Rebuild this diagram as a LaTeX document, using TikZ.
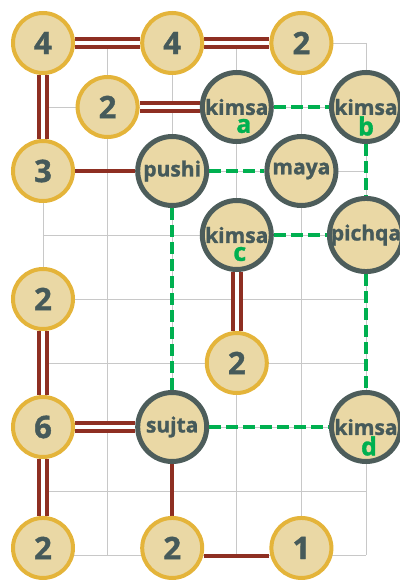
\documentclass[tikz,border=0pt]{standalone}
\usepackage{fontspec}
\setmainfont{Open Sans}[BoldFeatures={FakeBold=1.2}]
\usepackage{tikz}
\usetikzlibrary{backgrounds}
\definecolor{tiletan}{HTML}{EAD8A5}
\definecolor{tilegold}{HTML}{E4B43A}
\definecolor{tileslate}{HTML}{4D5D5B}
\definecolor{inkslate}{HTML}{465A5A}
\definecolor{bondred}{HTML}{8E2F22}
\definecolor{trailgreen}{HTML}{00B050}
\definecolor{gridgray}{HTML}{C8C8C8}
\tikzset{
  numnode/.style={
    circle,
    draw=tilegold,
    fill=tiletan,
    line width=4pt,
    minimum size=60pt,
    inner sep=0pt,
    text=inkslate,
    font=\fontsize{31}{31}\selectfont\bfseries
  },
  wordnode/.style={
    circle,
    draw=tileslate,
    fill=tiletan,
    line width=5pt,
    minimum size=69pt,
    inner sep=0pt,
    text=inkslate,
    font=\fontsize{21}{21}\selectfont\bfseries
  },
  tagtext/.style={
    text=trailgreen,
    inner sep=0pt,
    font=\fontsize{25}{25}\selectfont\bfseries
  },
  gridline/.style={
    draw=gridgray,
    line width=0.8pt
  },
  bond/.style={
    draw=bondred,
    line width=4.5pt
  },
  dbond/.style={
    draw=bondred,
    line width=3.5pt,
    double=white,
    double distance=4.5pt
  },
  trail/.style={
    draw=trailgreen,
    line width=4.5pt,
    dash pattern=on 12pt off 5pt
  }
}

\begin{document}
\begin{tikzpicture}[x=64.6pt, y=-64pt]
\useasboundingbox (-0.6656,-0.6719) rectangle (5.5263,8.4063);
% tiles
\node[numnode] (n4a) at (0,0) {4};
\node[numnode] (n4b) at (2,0) {4};
\node[numnode] (n2a) at (4,0) {2};
\node[numnode] (n2b) at (1,1) {2};
\node[wordnode] (ka) at (3,1) {kimsa};
\node[wordnode] (kb) at (5,1) {kimsa};
\node[numnode] (n3) at (0,2) {3};
\node[wordnode] (pushi) at (2,2) {pushi};
\node[wordnode] (maya) at (4,2) {maya};
\node[wordnode] (kc) at (3,3) {kimsa};
\node[wordnode] (pichqa) at (5,3) {pichqa};
\node[numnode] (n2c) at (0,4) {2};
\node[numnode] (n2d) at (3,5) {2};
\node[numnode] (n6) at (0,6) {6};
\node[wordnode] (sujta) at (2,6) {sujta};
\node[wordnode] (kd) at (5,6) {kimsa};
\node[numnode] (n2e) at (0,7.89) {2};
\node[numnode] (n2f) at (2,7.89) {2};
\node[numnode] (n1) at (4,7.89) {1};
% letters
\foreach \k/\t/\dx in {ka/a/7,kb/b/0,kc/c/3,kd/d/3} {
  \node[tagtext] (\k-tag) at ([xshift=\dx pt, yshift=-19pt]\k.center) {\t};
}
\begin{scope}[on background layer]
% grid
\foreach \c in {0,...,5} {
  \draw[gridline] (\c,0) -- (\c,8);
}
\foreach \r in {0,...,8} {
  \draw[gridline] (0,\r) -- (5,\r);
}
% bonds
\foreach \a/\b in {n4a/n4b,n4a/n3,n4b/n2a,n2b/ka,n2c/n6,n6/sujta,n6/n2e,kc/n2d} {
  \draw[dbond] (\a) -- (\b);
}
\foreach \a/\b in {n3/pushi,sujta/n2f} {
  \draw[bond] (\a) -- (\b);
}
\draw[bond] ([yshift=-8pt]n2f.east) -- ([yshift=-8pt]n1.west);
% trail
\foreach \a/\b in {ka/kb,pushi/maya,kc/pichqa,sujta/kd,kb/pichqa,pichqa/kd,pushi/sujta} {
  \draw[trail] (\a) -- (\b);
}
\end{scope}
\end{tikzpicture}
\end{document}
